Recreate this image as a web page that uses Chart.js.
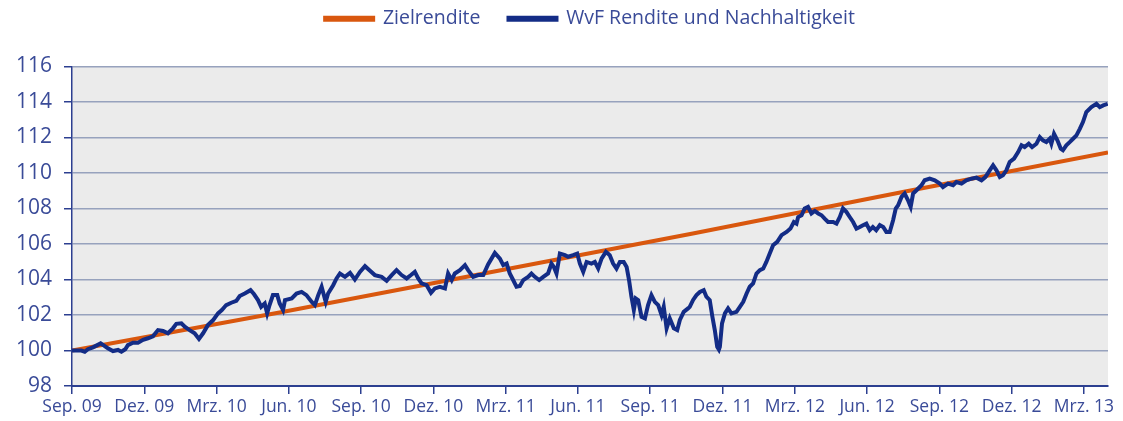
<!DOCTYPE html>
<html>
<head>
<meta charset="utf-8">
<script src="https://cdn.jsdelivr.net/npm/chart.js@4.4.1/dist/chart.umd.min.js"></script>
<style>
  html, body { margin: 0; padding: 0; background: #ffffff; }
  #wrap { width: 1123px; height: 421px; position: relative; }
</style>
</head>
<body>
<div id="wrap"><canvas id="c" width="1123" height="421"></canvas></div>
<script>
// ---- data ----
const tickLabels = ["Sep. 09","Dez. 09","Mrz. 10","Jun. 10","Sep. 10","Dez. 10","Mrz. 11","Jun. 11","Sep. 11","Dez. 11","Mrz. 12","Jun. 12","Sep. 12","Dez. 12","Mrz. 13"];
const seriesNames = ["Zielrendite", "WvF Rendite und Nachhaltigkeit"];

// months after Sep. 09
const zielMonths = [0, 8.67, 16.93, 25.77, 34.48, 43];
const zielValues = [100.0, 102.15, 104.3, 106.59, 108.93, 111.15];

const wvfMonths = [0,0.39,0.53,0.66,0.87,1.19,1.36,1.49,1.70,1.91,2.05,2.21,2.32,2.53,2.74,2.95,3.15,3.36,3.57,3.78,3.98,4.19,4.33,4.54,4.68,4.88,5.09,5.27,5.44,5.64,5.85,6.06,6.22,6.40,6.61,6.82,6.96,7.17,7.41,7.55,7.72,7.85,8.00,8.10,8.20,8.34,8.52,8.62,8.76,8.84,9.12,9.32,9.53,9.73,9.95,10.08,10.22,10.36,10.53,10.63,10.84,10.98,11.12,11.33,11.54,11.74,11.95,12.16,12.37,12.57,12.85,13.06,13.27,13.47,13.68,13.89,14.07,14.23,14.37,14.51,14.72,14.90,15.06,15.27,15.48,15.61,15.76,15.89,16.10,16.31,16.44,16.65,16.86,17.07,17.27,17.55,17.76,17.90,18.04,18.17,18.31,18.45,18.59,18.73,18.93,19.07,19.21,19.39,19.56,19.76,19.90,20.00,20.11,20.25,20.46,20.59,20.80,20.97,21.08,21.22,21.36,21.56,21.70,21.84,21.98,22.16,22.32,22.46,22.60,22.74,22.90,23.02,23.12,23.22,23.32,23.40,23.50,23.64,23.78,23.91,24.05,24.19,24.33,24.47,24.56,24.68,24.81,24.98,25.12,25.23,25.39,25.57,25.64,25.78,25.92,26.06,26.22,26.33,26.47,26.58,26.68,26.78,26.85,26.89,26.98,27.10,27.23,27.37,27.58,27.72,27.86,28.00,28.13,28.27,28.41,28.55,28.69,28.82,28.96,29.10,29.27,29.45,29.66,29.82,29.96,30.07,30.14,30.28,30.41,30.55,30.69,30.83,30.97,31.11,31.24,31.38,31.59,31.73,31.87,32.00,32.14,32.28,32.42,32.56,32.70,32.83,32.97,33.11,33.24,33.38,33.53,33.67,33.80,33.94,34.08,34.19,34.29,34.43,34.56,34.70,34.81,34.91,35.05,35.26,35.39,35.60,35.81,36.02,36.15,36.36,36.57,36.71,36.92,37.12,37.33,37.54,37.75,37.91,38.09,38.23,38.37,38.51,38.64,38.78,38.92,39.10,39.27,39.41,39.54,39.71,39.85,40.03,40.17,40.30,40.44,40.58,40.65,40.76,40.90,41.04,41.13,41.27,41.41,41.55,41.69,41.83,41.96,42.10,42.31,42.52,42.66,42.80,42.99];
const wvfValues = [100.0,100.0,99.93,100.07,100.18,100.4,100.25,100.12,99.97,100.03,99.93,100.07,100.3,100.44,100.44,100.6,100.69,100.8,101.15,101.1,100.97,101.25,101.5,101.53,101.34,101.15,100.97,100.65,100.97,101.43,101.7,102.09,102.28,102.56,102.69,102.8,103.07,103.21,103.4,103.18,102.84,102.46,102.65,102.09,102.56,103.12,103.12,102.65,102.28,102.84,102.93,103.21,103.3,103.12,102.74,102.56,103.12,103.59,102.74,103.21,103.68,104.06,104.34,104.15,104.37,104.0,104.43,104.75,104.49,104.25,104.15,103.93,104.25,104.53,104.25,104.06,104.25,104.43,104.06,103.78,103.68,103.25,103.5,103.59,103.5,104.34,103.97,104.34,104.53,104.81,104.53,104.15,104.25,104.25,104.85,105.5,105.18,104.81,104.9,104.34,103.97,103.59,103.63,103.97,104.15,104.34,104.15,103.97,104.15,104.34,104.9,104.71,104.34,105.46,105.37,105.28,105.37,105.46,104.9,104.43,104.99,104.9,104.99,104.62,105.18,105.56,105.37,104.9,104.62,104.99,104.99,104.71,103.97,103.03,102.28,102.93,102.84,101.9,101.81,102.56,103.12,102.74,102.56,102.0,102.46,101.25,101.81,101.25,101.15,101.72,102.18,102.37,102.46,102.85,103.12,103.3,103.4,103.03,102.84,101.9,101.15,100.21,100.05,100.21,101.53,102.09,102.37,102.09,102.18,102.46,102.74,103.21,103.59,103.78,104.34,104.53,104.62,104.99,105.46,105.93,106.12,106.5,106.68,106.87,107.24,107.15,107.52,107.62,108.0,108.09,107.72,107.86,107.72,107.62,107.43,107.24,107.24,107.15,107.52,108.0,107.81,107.52,107.24,106.87,106.96,107.06,107.15,106.78,106.96,106.78,107.06,106.96,106.68,106.68,107.34,108.0,108.18,108.65,108.84,108.46,108.09,108.84,109.03,109.31,109.59,109.68,109.59,109.4,109.21,109.4,109.31,109.49,109.4,109.59,109.68,109.74,109.59,109.77,110.15,110.43,110.15,109.77,109.87,110.15,110.62,110.81,111.18,111.56,111.46,111.65,111.46,111.65,112.02,111.84,111.74,111.93,111.65,112.21,111.84,111.37,111.28,111.56,111.74,111.93,112.12,112.49,112.87,113.43,113.71,113.9,113.71,113.81,113.9];

const yMin = 98, yMax = 116, yStep = 2;
const xMin = 0, xMax = 43, xStep = 3;

// ---- styles ----
const ORANGE = '#d9570e';
const NAVY = '#132c86';
const TEXT = '#3a4b98';
const AXIS = '#2c3f90';
const GRID = '#97a2bd';
const FONT = '"Open Sans", Lato, sans-serif';

const toPts = (xs, ys) => xs.map((x, i) => ({x: x, y: ys[i]}));

const plotBg = {
  id: 'plotBg',
  beforeDraw(chart) {
    const {ctx, chartArea: a} = chart;
    ctx.save();
    ctx.fillStyle = '#ebebeb';
    ctx.fillRect(a.left, a.top, a.right - a.left, a.bottom - a.top);
    ctx.restore();
  }
};

new Chart(document.getElementById('c'), {
  type: 'line',
  data: {
    datasets: [
      {
        label: seriesNames[0],
        data: toPts(zielMonths, zielValues),
        borderColor: ORANGE,
        backgroundColor: ORANGE,
        borderWidth: 4,
        pointRadius: 0,
        tension: 0,
        order: 2
      },
      {
        label: seriesNames[1],
        data: toPts(wvfMonths, wvfValues),
        borderColor: NAVY,
        backgroundColor: NAVY,
        borderWidth: 4,
        pointRadius: 0,
        tension: 0,
        order: 1
      }
    ]
  },
  options: {
    responsive: false,
    animation: false,
    layout: { padding: { left: 0, right: 15, top: -19, bottom: 0 } },
    plugins: {
      legend: {
        position: 'top',
        align: 'center',
        fullSize: false,
        labels: {
          color: TEXT,
          font: { family: FONT, size: 19.5 },
          boxWidth: 48,
          boxHeight: 2,
          padding: 28,
          sort: (a, b) => a.datasetIndex - b.datasetIndex
        }
      },
      title: {
        display: true,
        text: '',
        position: 'top',
        weight: 500,
        font: { size: 10 },
        padding: { top: 8, bottom: 8 }
      },
      tooltip: { enabled: false }
    },
    scales: {
      x: {
        type: 'linear',
        min: xMin,
        max: xMax,
        afterBuildTicks(scale) {
          scale.ticks = tickLabels.map((_, i) => ({ value: i * xStep }));
        },
        ticks: {
          color: TEXT,
          font: { family: FONT, size: 17.5 },
          maxRotation: 0,
          autoSkip: false,
          padding: 3,
          callback: (v) => tickLabels[Math.round(v / xStep)]
        },
        grid: {
          drawOnChartArea: false,
          drawTicks: true,
          tickLength: 8,
          tickColor: AXIS,
          lineWidth: 1.5
        },
        border: { color: AXIS, width: 2 },
        afterFit(scale) { scale.height = 35; }
      },
      y: {
        min: yMin,
        max: yMax,
        ticks: {
          stepSize: yStep,
          color: TEXT,
          font: { family: FONT, size: 21 },
          padding: 12
        },
        grid: {
          color: GRID,
          lineWidth: 1.5,
          tickLength: 8,
          tickColor: AXIS
        },
        border: { color: AXIS, width: 1.5 },
        afterFit(scale) { scale.width = 72; }
      }
    }
  },
  plugins: [plotBg]
});
</script>
</body>
</html>
